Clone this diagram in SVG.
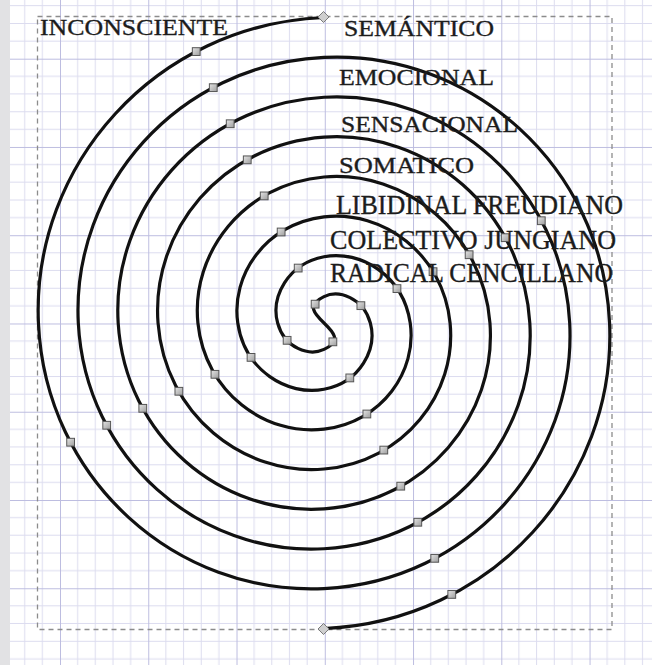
<svg xmlns="http://www.w3.org/2000/svg" xmlns:xlink="http://www.w3.org/1999/xlink" width="652" height="665" viewBox="0 0 652 665">
<style>
.bg{fill:#ffffff}
.strip{fill:#e2e2e4}
.minor{stroke:#dcdcef;stroke-width:1}
.major{stroke:#bdbde0;stroke-width:1}
.frame{fill:none;stroke:#8c8c8c;stroke-width:1.3;stroke-dasharray:5 4}
.spiral{fill:none;stroke:#111111;stroke-width:3.2;stroke-linecap:round;stroke-linejoin:round}
.handle{fill:url(#hg);stroke:#555555;stroke-width:1}
.dia{fill:#cfcfcf;stroke:#7a7a7a;stroke-width:1}
.lbl{font-family:"Liberation Serif","Times New Roman",serif;fill:#1c1c1c;stroke:#1c1c1c;stroke-width:0.35}
.s{font-size:24px}
.l{font-size:27px}
</style>
<defs>
<linearGradient id="hg" x1="0" y1="0" x2="1" y2="1">
<stop offset="0" stop-color="#e4e4e4"/>
<stop offset="1" stop-color="#9d9d9d"/>
</linearGradient>
<pattern id="grid" patternUnits="userSpaceOnUse" x="60" y="58.7" width="88.26" height="88.26">
<path class="minor" d="M17.65,0V88.26M35.3,0V88.26M52.96,0V88.26M70.61,0V88.26M0,17.65H88.26M0,35.3H88.26M0,52.96H88.26M0,70.61H88.26"/>
<path class="major" d="M0.5,0V88.26M0,0.5H88.26"/>
</pattern>
<rect id="h" x="-3.9" y="-3.9" width="7.8" height="7.8" class="handle"/>
</defs>

<g id="background">
<rect class="bg" x="0" y="0" width="652" height="665"/>
<rect x="10" y="0" width="642" height="665" fill="url(#grid)"/>
<rect class="strip" x="0" y="0" width="10" height="665"/>
</g>

<g id="frame">
<rect class="frame" x="37.5" y="16.5" width="574.5" height="613"/>
</g>

<g id="connectors" transform="matrix(0.99674,0,0,0.99674,2.053,1.551)">
<path id="spiral" class="spiral" d="M323,16 C153.72,23.03 29.47,164.27 36.5,322.5 C43.53,480.73 175.81,596.03 323,589 C470.19,581.97 576.53,458.64 569.5,322.5 C562.47,186.36 448.1,88.97 323,96 C197.9,103.03 109.47,208.45 116.5,322.5 C123.53,436.55 220,516.03 323,509 C426,501.97 496.53,414.46 489.5,322.5 C482.47,230.54 403.91,168.97 323,176 C242.09,183.03 189.47,252.63 196.5,322.5 C203.53,392.37 264.18,436.03 323,429 C381.82,421.97 416.53,370.27 409.5,322.5 C402.47,274.73 359.73,248.97 323,256 C286.27,263.03 269.47,296.82 276.5,322.5 C283.53,348.18 308.36,356.03 323,349 C359.6,331.4 286.4,313.6 323,296 C337.64,288.97 362.47,296.82 369.5,322.5 C376.53,348.18 359.73,381.97 323,389 C286.27,396.03 243.53,370.27 236.5,322.5 C229.47,274.73 264.18,223.03 323,216 C381.82,208.97 442.47,252.63 449.5,322.5 C456.53,392.37 403.91,461.97 323,469 C242.09,476.03 163.53,414.46 156.5,322.5 C149.47,230.54 220,143.03 323,136 C426,128.97 522.47,208.45 529.5,322.5 C536.53,436.55 448.1,541.97 323,549 C197.9,556.03 83.53,458.64 76.5,322.5 C69.47,186.36 175.81,63.03 323,56 C470.19,48.97 602.47,164.27 609.5,322.5 C616.53,480.73 492.28,621.97 323,629"/>
<g id="handles">
<use href="#h" x="194.8" y="50.2"/>
<use href="#h" x="68.8" y="442.1"/>
<use href="#h" x="434.1" y="558.6"/>
<use href="#h" x="541" y="219.9"/>
<use href="#h" x="228.9" y="122.6"/>
<use href="#h" x="141.2" y="408.1"/>
<use href="#h" x="400" y="486.2"/>
<use href="#h" x="468.6" y="254"/>
<use href="#h" x="263" y="195"/>
<use href="#h" x="213.6" y="374"/>
<use href="#h" x="366" y="413.8"/>
<use href="#h" x="396.2" y="288"/>
<use href="#h" x="297.1" y="267.4"/>
<use href="#h" x="286" y="339.9"/>
<use href="#h" x="331.9" y="341.4"/>
<use href="#h" x="451.2" y="594.8"/>
<use href="#h" x="211.9" y="86.4"/>
<use href="#h" x="105" y="425.1"/>
<use href="#h" x="417.1" y="522.4"/>
<use href="#h" x="504.8" y="236.9"/>
<use href="#h" x="246" y="158.8"/>
<use href="#h" x="177.4" y="391"/>
<use href="#h" x="383" y="450"/>
<use href="#h" x="432.4" y="271"/>
<use href="#h" x="280" y="231.2"/>
<use href="#h" x="249.8" y="357"/>
<use href="#h" x="348.9" y="377.6"/>
<use href="#h" x="360" y="305.1"/>
<use href="#h" x="314.1" y="303.6"/>
</g>
</g>

<g id="ends">
<polygon class="dia" points="323.5,11.5 329,17 323.5,22.5 318,17"/>
<polygon class="dia" points="323.5,623.5 329,629 323.5,634.5 318,629"/>
</g>

<g id="label-inconsciente"><text class="lbl" x="40" y="35" font-size="23.5" textLength="188" lengthAdjust="spacingAndGlyphs">INCONSCIENTE</text></g>
<g id="label-semantico"><text class="lbl s" x="344" y="36" textLength="150" lengthAdjust="spacingAndGlyphs">SEMÁNTICO</text></g>
<g id="label-emocional"><text class="lbl s" x="339" y="85" textLength="155" lengthAdjust="spacingAndGlyphs">EMOCIONAL</text></g>
<g id="label-sensacional"><text class="lbl s" x="341" y="131.5" textLength="177" lengthAdjust="spacingAndGlyphs">SENSACIONAL</text></g>
<g id="label-somatico"><text class="lbl s" x="339" y="173" textLength="135" lengthAdjust="spacingAndGlyphs">SOMATICO</text></g>
<g id="label-libidinal"><text class="lbl l" x="336" y="214" textLength="287" lengthAdjust="spacingAndGlyphs">LIBIDINAL FREUDIANO</text></g>
<g id="label-colectivo"><text class="lbl l" x="330" y="249" textLength="286" lengthAdjust="spacingAndGlyphs">COLECTIVO JUNGIANO</text></g>
<g id="label-radical"><text class="lbl l" x="330" y="282" textLength="283" lengthAdjust="spacingAndGlyphs">RADICAL CENCILLANO</text></g>
</svg>
